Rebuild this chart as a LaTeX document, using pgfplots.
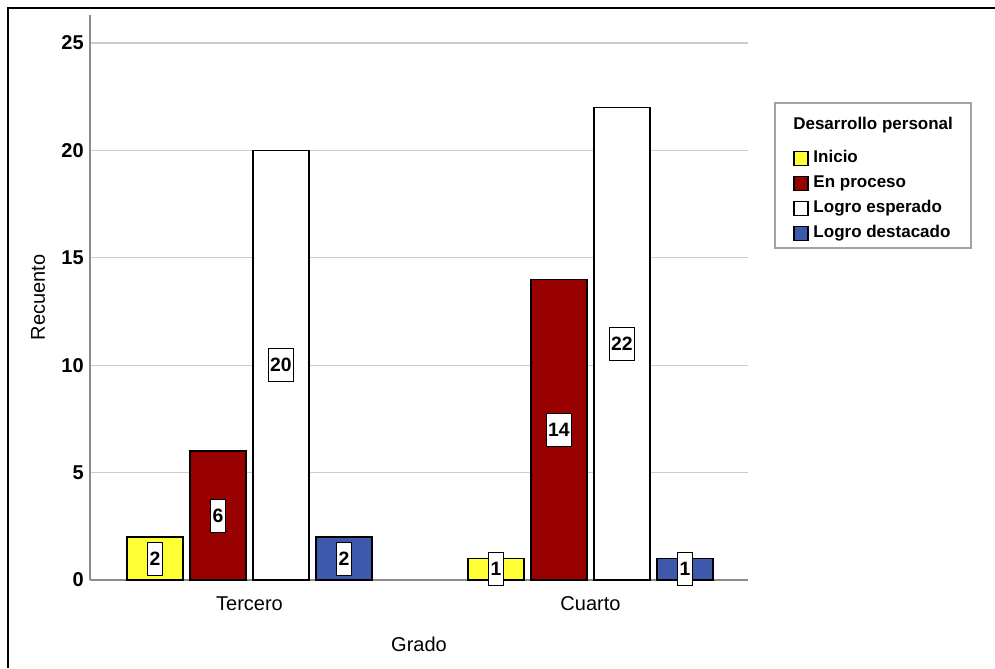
\documentclass[border=0pt]{standalone}
\usepackage{pgfplots}
\pgfplotsset{compat=1.18}
\usepackage{fontspec}
\setmainfont{Liberation Sans}
\definecolor{cyellow}{HTML}{FFFF33}
\definecolor{cred}{HTML}{990000}
\definecolor{cblue}{HTML}{3E58AC}
\definecolor{gridc}{HTML}{CCCCCC}
\definecolor{axisc}{HTML}{8C8C8C}
\begin{document}
\begin{tikzpicture}
\useasboundingbox (0pt,0pt) rectangle (746.25pt,501pt);
\draw[line width=1.6pt,black] (6pt,0pt) -- (6pt,495pt) -- (746.25pt,495pt);
\coordinate (O) at (67.5pt,66pt);
\begin{axis}[
  at={(O)}, anchor=south west,
  scale only axis, width=493.5pt, height=423.75pt,
  xmin=-0.4677, xmax=1.4619, ymin=0, ymax=26.30,
  ybar, bar width=42pt,
  clip=false,
  axis lines*=left,
  axis line style={axisc, line width=0.9pt},
  xtick={0,1}, xticklabels={Tercero,Cuarto},
  ytick={0,5,10,15,20,25},
  major tick length=0pt,
  ymajorgrids, grid style={gridc, line width=0.9pt},
  /pgf/number format/assume math mode=true,
  yticklabel style={font=\fontsize{15}{16}\selectfont\bfseries, inner sep=0pt, xshift=-4.5pt},
  xticklabel style={font=\fontsize{15}{16}\selectfont, inner sep=0pt, yshift=-12pt},
  xlabel={Grado}, ylabel={Recuento},
  every axis x label/.style={at={(rel axis cs:0.5,0)}, anchor=center, yshift=-48.5pt, font=\fontsize{15}{16}\selectfont},
  every axis y label/.style={at={(rel axis cs:0,0.5)}, rotate=90, anchor=center, yshift=39pt, font=\fontsize{15}{16}\selectfont},
  nodes near coords,
  visualization depends on={y \as \rawy},
  every node near coord/.append style={anchor=center, yshift={-8.056pt*\rawy}, draw=black, line width=0.6pt, fill=white, text=black,
     font=\fontsize{14.5}{16}\selectfont\bfseries, inner xsep=1.5pt, inner ysep=0pt, minimum height=24.75pt},
  legend style={at={(rel axis cs:1.0685,0.7610)}, anchor=north west, draw=none, fill=none, inner sep=0pt,
     row sep=6.25pt, font=\fontsize{12.75}{14}\selectfont\bfseries,
     nodes={inner sep=0pt, text height=9.5pt, text depth=3pt},
     /tikz/every odd column/.append style={column sep=3.5pt}},
  legend cell align=left,
  legend image code/.code={\draw[#1, draw=black, line width=1.1pt] (0pt,-5.25pt) rectangle (10.5pt,5.25pt);},
]
\addplot[fill=cyellow, draw=black, line width=1.1pt, bar shift=-70.875pt] coordinates {(0,2) (1,1)};
\addplot[fill=cred, draw=black, line width=1.1pt, bar shift=-23.625pt] coordinates {(0,6) (1,14)};
\addplot[fill=white, draw=black, line width=1.1pt, bar shift=23.625pt] coordinates {(0,20) (1,22)};
\addplot[fill=cblue, draw=black, line width=1.1pt, bar shift=70.875pt] coordinates {(0,2) (1,1)};
\legend{Inicio, En proceso, Logro esperado, Logro destacado}
\end{axis}
\draw[axisc!80, line width=0.9pt] (581.25pt,315pt) rectangle (728.25pt,423.75pt);
\node[anchor=west, font=\fontsize{12.75}{14}\selectfont\bfseries, inner sep=0pt] at (594.75pt,407.25pt) {Desarrollo personal};
\end{tikzpicture}
\end{document}
